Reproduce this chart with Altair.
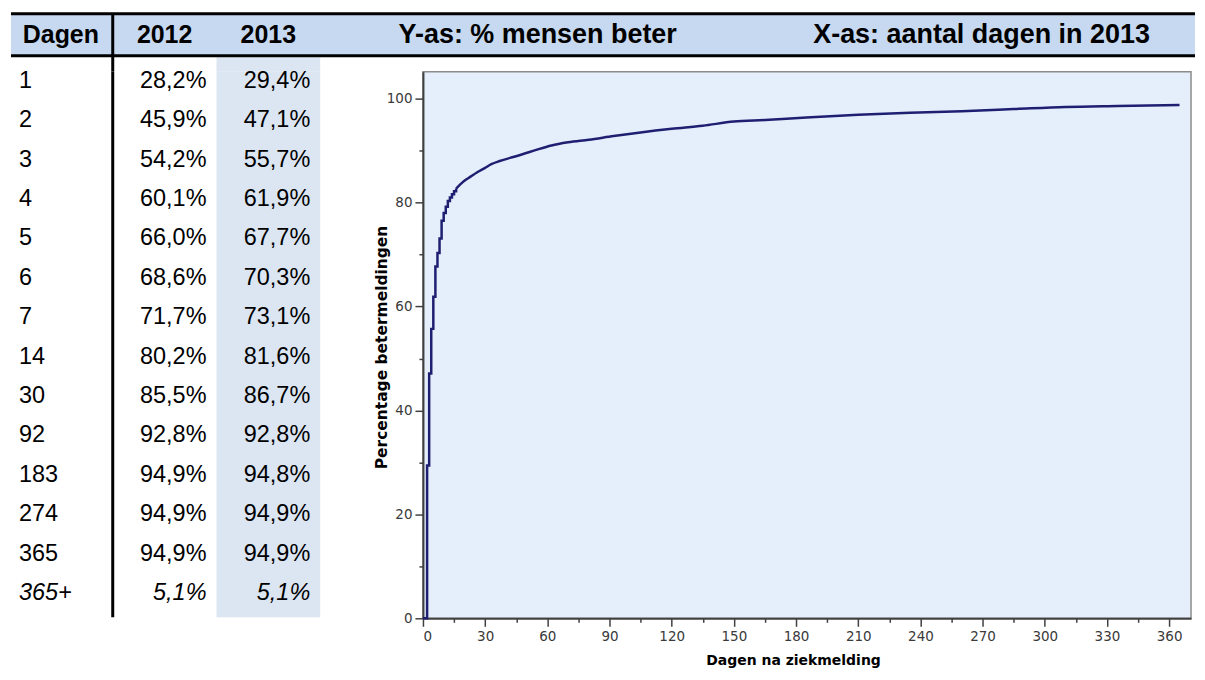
import altair as alt
import pandas as pd

# ---------------- data ----------------
days = ["1", "2", "3", "4", "5", "6", "7", "14", "30", "92", "183", "274", "365", "365+"]
pct_2012 = [28.2, 45.9, 54.2, 60.1, 66.0, 68.6, 71.7, 80.2, 85.5, 92.8, 94.9, 94.9, 94.9, 5.1]
pct_2013 = [29.4, 47.1, 55.7, 61.9, 67.7, 70.3, 73.1, 81.6, 86.7, 92.8, 94.8, 94.9, 94.9, 5.1]
columns = ["Dagen", "2012", "2013"]
header_right = ["Y-as: % mensen beter", "X-as: aantal dagen in 2013"]

curve_day = [0, 2, 3, 4, 5, 6, 7, 8, 9, 10, 11, 12, 13, 14, 15, 16, 18, 20, 23, 26, 30, 33, 37,
             42, 48, 55, 62, 70, 80, 92, 105, 120, 135, 150, 165, 185, 210, 235, 260, 285, 310,
             335, 365]
curve_pct = [0, 29.4, 47.1, 55.7, 61.9, 67.7, 70.3, 73.1, 76.5, 78.0, 79.2, 80.3, 81.0, 81.6,
             82.2, 82.7, 83.5, 84.2, 85.0, 85.8, 86.7, 87.4, 88.0, 88.6, 89.3, 90.2, 91.0, 91.6,
             92.1, 92.8, 93.5, 94.2, 94.8, 95.6, 95.9, 96.4, 96.9, 97.3, 97.6, 98.0, 98.4, 98.6,
             98.8]

x_major = [0, 30, 60, 90, 120, 150, 180, 210, 240, 270, 300, 330, 360]
x_minor = [15, 45, 75, 105, 135, 165, 195, 225, 255, 285, 315, 345]
y_major = [0, 20, 40, 60, 80, 100]
y_minor = [10, 30, 50, 70, 90]

# ---------------- styles ----------------
FONT = "Liberation Sans"
HEAD_BG = "#C6D9F0"
SHADE = "#DCE6F2"
PLOT_BG = "#E4EFFB"
LINE = "#1F1F72"

W_ALL = 1189
H_HEAD = 62
W_TAB = 312
H_TAB = 548
W_PLOT = 770
H_PLOT = 548
STEP_END = 16


def fmt(v):
    return f"{v:.1f}".replace(".", ",") + "%"


one = pd.DataFrame({"k": [0]})

# ---------------- header ----------------
band = alt.Chart(one).mark_rect(color=HEAD_BG).encode(
    x=alt.value(2), x2=alt.value(W_ALL), y=alt.value(4), y2=alt.value(46))
stub = alt.Chart(one).mark_rect(color=SHADE).encode(
    x=alt.value(208), x2=alt.value(312), y=alt.value(47.5), y2=alt.value(H_HEAD))
top_rule = alt.Chart(one).mark_rule(color="black", strokeWidth=3).encode(
    x=alt.value(2), x2=alt.value(W_ALL), y=alt.value(4))
bot_rule = alt.Chart(one).mark_rule(color="black", strokeWidth=3).encode(
    x=alt.value(2), x2=alt.value(W_ALL), y=alt.value(46))
vrule_h = alt.Chart(one).mark_rule(color="black", strokeWidth=3).encode(
    x=alt.value(104), y=alt.value(4), y2=alt.value(H_HEAD))

head_layers = [band, stub, top_rule, bot_rule, vrule_h]
for lab, px in zip(columns, [52, 156, 260]):
    head_layers.append(
        alt.Chart(pd.DataFrame({"t": [lab]})).mark_text(
            font=FONT, fontSize=25, fontWeight="bold", color="black",
            align="center", baseline="middle").encode(
            x=alt.value(px), y=alt.value(25), text="t:N"))
for lab, px in zip(header_right, [530, 975]):
    head_layers.append(
        alt.Chart(pd.DataFrame({"t": [lab]})).mark_text(
            font="Liberation Sans Narrow, Arial Narrow, Liberation Sans", fontSize=27,
            fontWeight="bold", color="black", align="center", baseline="middle").encode(
            x=alt.value(px), y=alt.value(25), text="t:N"))

header = alt.layer(*head_layers).properties(width=W_ALL, height=H_HEAD)

# ---------------- table ----------------
recs = []
for i, d in enumerate(days):
    it = i == len(days) - 1
    recs.append({"col": "Dagen", "idx": i, "t": d, "it": it})
    recs.append({"col": "2012", "idx": i, "t": fmt(pct_2012[i]), "it": it})
    recs.append({"col": "2013", "idx": i, "t": fmt(pct_2013[i]), "it": it})
tdf = pd.DataFrame(recs)

colscale = alt.Scale(domain=columns, paddingInner=0, paddingOuter=0)
rowscale = alt.Scale(domain=[-0.235, 13.64], reverse=True, nice=False, zero=False)

shade = alt.Chart(pd.DataFrame({"col": ["2013"]})).mark_rect(color=SHADE).encode(
    x=alt.X("col:N", scale=colscale, axis=None), y=alt.value(0), y2=alt.value(H_TAB - 1))
vrule = alt.Chart(pd.DataFrame({"col": ["2012"]})).mark_rule(color="black", strokeWidth=3).encode(
    x=alt.X("col:N", scale=colscale, axis=None, bandPosition=0),
    y=alt.value(0), y2=alt.value(H_TAB - 1))


def text_layer(is_day, italic):
    src = alt.Chart(tdf).transform_filter(
        ("datum.col == 'Dagen'" if is_day else "datum.col != 'Dagen'")
        + (" && datum.it" if italic else " && !datum.it"))
    kw = dict(font=FONT, fontSize=23.5, color="black", baseline="middle")
    if italic:
        kw["fontStyle"] = "italic"
    if is_day:
        m = src.mark_text(align="left", dx=10, **kw)
        xpos = alt.X("col:N", scale=colscale, axis=None, bandPosition=0)
    else:
        m = src.mark_text(align="right", dx=-10, **kw)
        xpos = alt.X("col:N", scale=colscale, axis=None, bandPosition=1)
    return m.encode(x=xpos, y=alt.Y("idx:Q", scale=rowscale, axis=None), text="t:N")


table = alt.layer(
    shade, vrule,
    text_layer(True, False), text_layer(True, True),
    text_layer(False, False), text_layer(False, True),
).properties(width=W_TAB, height=H_TAB)

# ---------------- plot ----------------
cdf = pd.DataFrame({"dag": curve_day, "pct": curve_pct})
xs = alt.Scale(domain=[0, W_PLOT / 2.078], nice=False, zero=False)
ys = alt.Scale(domain=[0, 105.2], nice=False)

ax_x = alt.Axis(values=x_major, orient="bottom", grid=False, tickSize=8, tickWidth=1.5,
                tickColor="#404040", domainColor="#404040", domainWidth=2,
                labelFont="DejaVu Sans", labelFontSize=13.5, labelColor="#3a3a3a",
                labelPadding=3, title="Dagen na ziekmelding", titleFont="DejaVu Sans",
                titleFontSize=14, titleFontWeight="bold", titleColor="black",
                titleX=371, titleY=46, titleBaseline="alphabetic")
ax_y = alt.Axis(values=y_major, orient="left", grid=False, tickSize=8, tickWidth=1.5,
                tickColor="#404040", domainColor="#404040", domainWidth=2,
                labelFont="DejaVu Sans", labelFontSize=13.5, labelColor="#3a3a3a",
                labelPadding=3, title="Percentage betermeldingen", titleFont="DejaVu Sans",
                titleFontSize=15.5, titleFontWeight="bold", titleColor="black",
                titleX=-34, titleY=276, titleBaseline="bottom")
ax_xm = alt.Axis(values=x_minor, orient="bottom", grid=False, labels=False, domain=False,
                 tickSize=4, tickWidth=1.5, tickColor="#404040", title=None)
ax_ym = alt.Axis(values=y_minor, orient="left", grid=False, labels=False, domain=False,
                 tickSize=4, tickWidth=1.5, tickColor="#404040", title=None)

step_part = alt.Chart(cdf).transform_filter(f"datum.dag <= {STEP_END}").mark_line(
    interpolate="step-after", color=LINE, strokeWidth=2.5).encode(
    x=alt.X("dag:Q", scale=xs, axis=ax_x), y=alt.Y("pct:Q", scale=ys, axis=ax_y))
smooth_part = alt.Chart(cdf).transform_filter(f"datum.dag >= {STEP_END}").mark_line(
    interpolate="monotone", color=LINE, strokeWidth=2.5).encode(
    x=alt.X("dag:Q", scale=xs, axis=None), y=alt.Y("pct:Q", scale=ys, axis=None))
minor = alt.Chart(cdf).mark_point(opacity=0).encode(
    x=alt.X("dag:Q", scale=xs, axis=ax_xm), y=alt.Y("pct:Q", scale=ys, axis=ax_ym))

plot = alt.layer(minor, step_part, smooth_part).resolve_axis(
    x="independent", y="independent").properties(
    width=W_PLOT, height=H_PLOT,
    view=alt.ViewBackground(fill=PLOT_BG, stroke="#8c8c8c", strokeWidth=1.5))

chart = alt.vconcat(
    header,
    alt.hconcat(table, plot, spacing=103, bounds="flush"),
    spacing=0, bounds="flush",
).properties(padding=0).configure_view(stroke="transparent")

chart.save("out.html", embed_options={"renderer": "svg", "actions": False})
